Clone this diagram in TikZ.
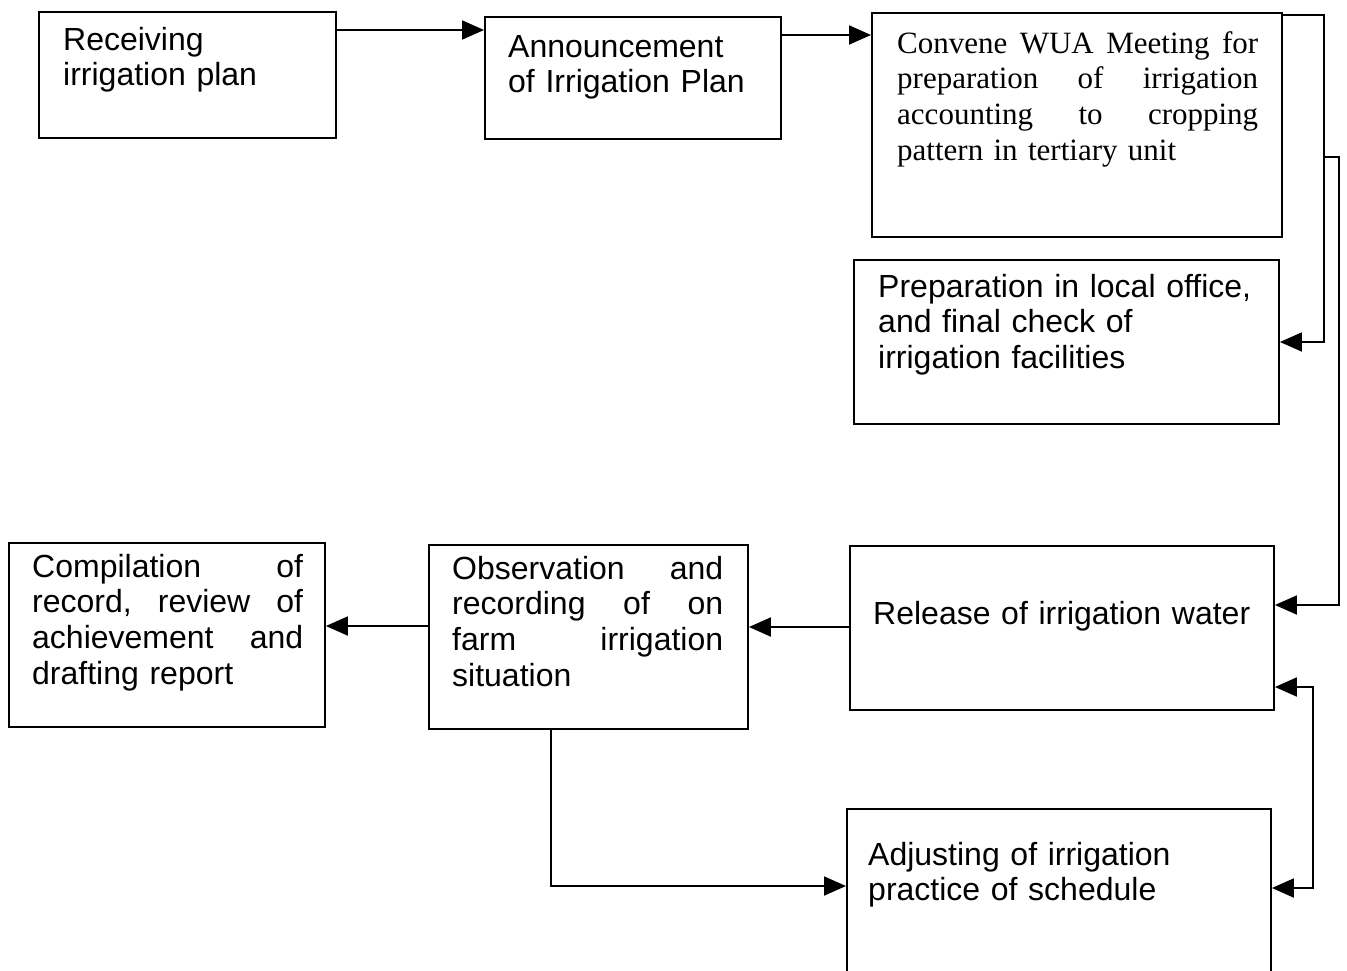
\documentclass[tikz,border=0pt]{standalone}
\usepackage{fontspec}
\setmainfont{Liberation Sans}
\newfontfamily\serifface{Liberation Serif}
\usetikzlibrary{arrows.meta}
\begin{document}
\begin{tikzpicture}[x=1pt,y=-1pt,
  box/.style={draw, line width=1.9pt, rectangle, anchor=north west, inner sep=0pt},
  txt/.style={anchor=base west, inner sep=0pt, align=left,
    font=\fontsize{32}{35.7}\selectfont},
  link/.style={line width=1.9pt},
  arr/.style={link, -{Triangle[length=22pt,width=19pt]}},
  biarr/.style={link, {Triangle[length=22pt,width=19pt]}-{Triangle[length=22pt,width=19pt]}}
]
\clip (0,0) rectangle (1347,970);
\fill[white] (0,0) rectangle (1347,970);

% process boxes
\node[box, minimum width=297pt, minimum height=126pt] (rcv)  at (38,11)  {};
\node[box, minimum width=296pt, minimum height=122pt] (ann)  at (484,16) {};
\node[box, minimum width=410pt, minimum height=224pt] (conv) at (871,12) {};
\node[box, minimum width=425pt, minimum height=164pt] (prep) at (853,259) {};
\node[box, minimum width=424pt, minimum height=164pt] (rel)  at (849,545) {};
\node[box, minimum width=319pt, minimum height=184pt] (obs)  at (428,544) {};
\node[box, minimum width=316pt, minimum height=184pt] (cmp)  at (8,542)   {};
\node[box, minimum width=424pt, minimum height=220pt] (adj)  at (846,808) {};

% box texts
\node[txt, text width=260pt] (trcv) at (63,50) {Receiving\\irrigation plan};
\node[txt, text width=260pt] (tann) at (508,57) {Announcement\\of Irrigation Plan};
\node[txt, text width=361pt, font=\fontsize{31}{35.7}\serifface] (tconv) at (897,53)
  {Convene \hfill WUA \hfill Meeting \hfill for\\
   preparation \hfill of \hfill irrigation\\
   accounting \hfill to \hfill cropping\\
   pattern in tertiary unit};
\node[txt, text width=390pt] (tprep) at (878,297)
  {Preparation in local office,\\and final check of\\irrigation facilities};
\node[txt, text width=390pt] (trel) at (873,624) {Release of irrigation water};
\node[txt, text width=271pt] (tobs) at (452,579)
  {Observation \hfill and\\
   recording \hfill of \hfill on\\
   farm \hfill irrigation\\
   situation};
\node[txt, text width=271pt] (tcmp) at (32,577)
  {Compilation \hfill of\\
   record, \hfill review \hfill of\\
   achievement \hfill and\\
   drafting report};
\node[txt, text width=390pt] (tadj) at (868,865)
  {Adjusting of irrigation\\practice of schedule};

% connectors
\draw[arr] ([yshift=-19pt]rcv.north east) -- ([yshift=-14pt]ann.north west);
\draw[arr] ([yshift=-19pt]ann.north east) -- ([yshift=-23pt]conv.north west);
\draw[arr] ([yshift=-3pt]conv.north east) -- ++(41,0) |- ([yshift=-83pt]prep.north east);
\coordinate (feed) at (1325,157);
\draw[arr] (feed) -- ++(14,0) |- ([yshift=-60pt]rel.north east);
\draw[arr] ([yshift=-82pt]rel.north west) -- ([yshift=-83pt]obs.north east);
\draw[arr] ([yshift=-82pt]obs.north west) -- ([yshift=-84pt]cmp.north east);
\draw[arr] ([xshift=123pt]obs.south west) |- ([yshift=-78pt]adj.north west);
\draw[biarr] ([yshift=-142pt]rel.north east) -- ++(38,0) |- ([yshift=-80pt]adj.north east);
\end{tikzpicture}
\end{document}
